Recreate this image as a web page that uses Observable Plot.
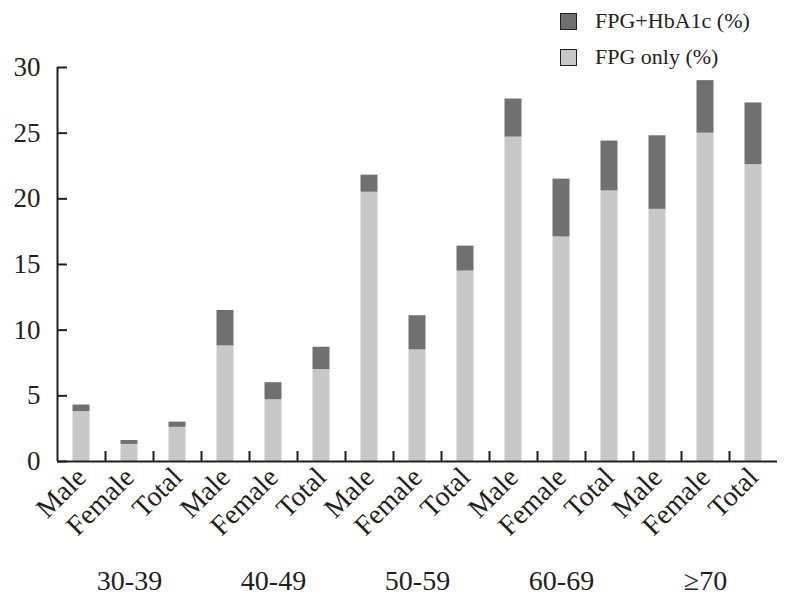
<!DOCTYPE html>
<html>
<head>
<meta charset="utf-8">
<script src="https://cdn.jsdelivr.net/npm/d3@7"></script>
<script src="https://cdn.jsdelivr.net/npm/@observablehq/plot@0.6"></script>
<style>
  html, body { margin: 0; padding: 0; background: #fff; }
  #wrap { position: relative; width: 785px; height: 612px; font-family: "Liberation Serif", "DejaVu Serif", serif; color: #231f20; }
  #legend { position: absolute; left: 560px; top: 3px; font-size: 22px; line-height: 36px; }
  .item { display: flex; align-items: center; height: 36px; }
  .sw { width: 15px; height: 15px; border: 1.5px solid #231f20; margin-right: 18px; box-sizing: content-box; }
</style>
</head>
<body>
<div id="wrap"><div id="legend"></div></div>
<script>
const groups = ["30-39", "40-49", "50-59", "60-69", "≥70"];
const sexes = ["Male", "Female", "Total"];
const fpgOnly = [3.8, 1.3, 2.6, 8.8, 4.7, 7.0, 20.5, 8.5, 14.5, 24.7, 17.1, 20.6, 19.2, 25.0, 22.6];
const fpgHbA1c = [0.5, 0.3, 0.4, 2.7, 1.3, 1.7, 1.3, 2.6, 1.9, 2.9, 4.4, 3.8, 5.6, 4.0, 4.7];
const yTicks = [0, 5, 10, 15, 20, 25, 30];
const seriesNames = ["FPG+HbA1c (%)", "FPG only (%)"];
const seriesColors = ["#707070", "#c8c8c8"];

const ink = "#231f20";
const labels = [];
groups.forEach(g => sexes.forEach(s => labels.push({group: g, sex: s})));
const rows = [];
labels.forEach((d, i) => {
  rows.push({i, series: seriesNames[1], y1: 0, y2: fpgOnly[i]});
  rows.push({i, series: seriesNames[0], y1: fpgOnly[i], y2: fpgOnly[i] + fpgHbA1c[i]});
});
const groupRows = groups.map((g, k) => ({group: g, pos: k * 3 + 1.5}));
const centers = labels.map((d, i) => i + 0.5);
const bounds = d3.range(1, labels.length);

const chart = Plot.plot({
  width: 785,
  height: 612,
  marginLeft: 57,
  marginRight: 8,
  marginTop: 67,
  marginBottom: 151,
  style: {fontFamily: "Liberation Serif, DejaVu Serif, serif", color: ink, background: "transparent"},
  x: {domain: [0, labels.length], axis: null},
  y: {domain: [0, 30], axis: null},
  color: {domain: seriesNames, range: seriesColors},
  marks: [
    Plot.rectY(rows, {x1: "i", x2: d => d.i + 1, y1: "y1", y2: "y2", fill: "series", insetLeft: 15.5, insetRight: 15.5}),
    Plot.axisY({ticks: yTicks, tickSize: -10, tickPadding: 27, fontSize: 27, stroke: ink, strokeWidth: 2, color: ink}),
    Plot.axisX({ticks: bounds, tickSize: -10, tickFormat: () => "", stroke: ink, strokeWidth: 2}),
    Plot.axisX({ticks: centers, tickSize: 0, tickPadding: 11, tickRotate: -45, fontSize: 28, color: ink,
      tickFormat: v => labels[Math.floor(v)].sex}),
    Plot.text(groupRows, {x: "pos", y: 0, text: "group", dy: 120, fontSize: 28, fill: ink}),
    Plot.ruleX([0], {y1: 0, y2: 30, stroke: ink, strokeWidth: 2}),
    Plot.ruleY([0], {stroke: ink, strokeWidth: 2})
  ]
});
const wrap = document.getElementById("wrap");
wrap.insertBefore(chart, wrap.firstChild);

const leg = document.getElementById("legend");
seriesNames.forEach((n, k) => {
  const it = document.createElement("div");
  it.className = "item";
  const sw = document.createElement("span");
  sw.className = "sw";
  sw.style.background = seriesColors[k];
  const t = document.createElement("span");
  t.textContent = n;
  it.appendChild(sw); it.appendChild(t);
  leg.appendChild(it);
});
</script>
</body>
</html>
